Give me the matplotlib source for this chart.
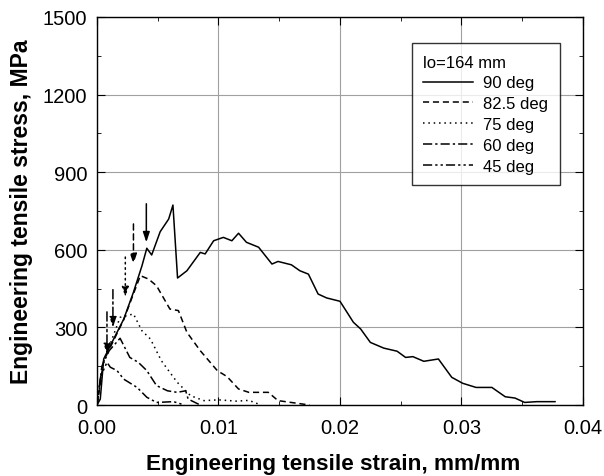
import matplotlib
matplotlib.use("Agg")
import matplotlib.pyplot as plt
from matplotlib.ticker import MultipleLocator, FormatStrFormatter

plt.rcParams["font.family"] = ["Liberation Sans", "DejaVu Sans"]

# strain (mm/mm), stress (MPa)
s90_x = [0.0, 0.00027, 0.00055, 0.00137, 0.0022, 0.0030, 0.0037, 0.0041, 0.0045, 0.0052,
         0.0059, 0.00625, 0.00663, 0.0074, 0.0085, 0.0089, 0.0096, 0.0104, 0.0111, 0.01165,
         0.0123, 0.0133, 0.0144, 0.0149, 0.0160, 0.0167, 0.0174, 0.0182, 0.0189, 0.0200,
         0.0211, 0.0217, 0.0225, 0.0236, 0.0247, 0.0254, 0.0260, 0.0269, 0.0281, 0.0292,
         0.0301, 0.0312, 0.0325, 0.0336, 0.0344, 0.0352, 0.0362, 0.0377]
s90_y = [0, 23, 178, 255, 332, 436, 538, 606, 580, 670,
         719, 773, 491, 519, 590, 584, 635, 648, 635, 664,
         629, 610, 545, 555, 542, 519, 506, 429, 414, 401,
         320, 294, 242, 220, 208, 184, 187, 169, 178, 107,
         84, 68, 68, 32, 27, 10, 13, 13]

s82_x = [0.0, 0.00055, 0.00137, 0.0022, 0.0030, 0.00357, 0.00424, 0.0049, 0.0060, 0.0067,
         0.0074, 0.0085, 0.0099, 0.0107, 0.01165, 0.0125, 0.0141, 0.0149, 0.0175]
s82_y = [0, 170, 250, 330, 430, 500, 487, 461, 371, 365,
         281, 210, 133, 110, 62, 49, 49, 17, 0]

s75_x = [0.0, 0.0005, 0.0012, 0.0019, 0.0030, 0.0037, 0.0044, 0.0053, 0.0060, 0.0066,
         0.0077, 0.0088, 0.0100, 0.0115, 0.0125, 0.0135]
s75_y = [0, 160, 250, 339, 352, 287, 255, 171, 126, 88,
         36, 17, 20, 15, 18, 0]

s60_x = [0.0, 0.0004, 0.0010, 0.0019, 0.0027, 0.0034, 0.0041, 0.0049, 0.0058, 0.0066,
         0.0073, 0.0075, 0.0085]
s60_y = [0, 150, 210, 258, 184, 165, 133, 75, 55, 49,
         55, 23, 0]

s45_x = [0.0, 0.0003, 0.00082, 0.0011, 0.00165, 0.0022, 0.0033, 0.0041, 0.0049, 0.0063, 0.0072]
s45_y = [0, 110, 165, 146, 133, 100, 68, 30, 10, 13, 0]

labels = ["90 deg", "82.5 deg", "75 deg", "60 deg", "45 deg"]
styles = ["-", (0, (4, 2.5)), (0, (1, 2.5)), (0, (6, 2, 1.5, 2)), (0, (6, 2, 1.5, 2, 1.5, 2))]

# arrows marking the peak: strain, stress at tail, stress at head
arrow_x = [0.00406, 0.0030, 0.00233, 0.00131, 0.00082]
arrow_top = [778, 700, 572, 446, 360]
arrow_tip = [629, 545, 417, 300, 197]

series = [(s90_x, s90_y), (s82_x, s82_y), (s75_x, s75_y), (s60_x, s60_y), (s45_x, s45_y)]

fig = plt.figure(figsize=(6.04, 4.77), dpi=100)
ax = fig.add_axes([0.1606, 0.1488, 0.8046, 0.8135])

for (xs, ys), lab, ls in zip(series, labels, styles):
    ax.plot(xs, ys, color="black", lw=1.1, linestyle=ls, label=lab)

for x, y0, y1, ls in zip(arrow_x, arrow_top, arrow_tip, styles):
    ax.annotate("", xy=(x, y1), xytext=(x, y0),
                arrowprops=dict(arrowstyle="-|>,head_length=0.6,head_width=0.2",
                                color="black", lw=1.1, linestyle=ls, shrinkA=0, shrinkB=0))

ax.set_xlim(0, 0.04)
ax.set_ylim(0, 1500)
ax.xaxis.set_major_locator(MultipleLocator(0.01))
ax.xaxis.set_minor_locator(MultipleLocator(0.005))
ax.yaxis.set_major_locator(MultipleLocator(300))
ax.yaxis.set_minor_locator(MultipleLocator(150))
ax.xaxis.set_major_formatter(FormatStrFormatter("%.2f"))
ax.grid(True, which="major", color="#a0a0a0", lw=0.8)
ax.tick_params(which="both", direction="in", top=True, right=True, labelsize=14.5)
ax.tick_params(which="major", length=6)
ax.tick_params(which="minor", length=3)
ax.tick_params(axis="x", pad=9)
ax.tick_params(axis="y", pad=7)
for sp in ax.spines.values():
    sp.set_linewidth(1.0)

ax.set_xlabel("Engineering tensile strain, mm/mm", fontsize=16.2, fontweight="bold", labelpad=12)
ax.xaxis.label.set_x(0.486)
ax.set_ylabel("Engineering tensile stress, MPa", fontsize=16.5, fontweight="bold", labelpad=7)

leg = ax.legend(loc="upper right", bbox_to_anchor=(0.953, 0.933), borderaxespad=0,
                title="lo=164 mm", fontsize=12, title_fontsize=12, frameon=True,
                fancybox=False, edgecolor="black", handlelength=3.0, handletextpad=0.6,
                labelspacing=0.35, borderpad=0.7)
leg.get_frame().set_linewidth(1.0)
leg._legend_box.align = "left"

fig.savefig("out.png", dpi=100)
